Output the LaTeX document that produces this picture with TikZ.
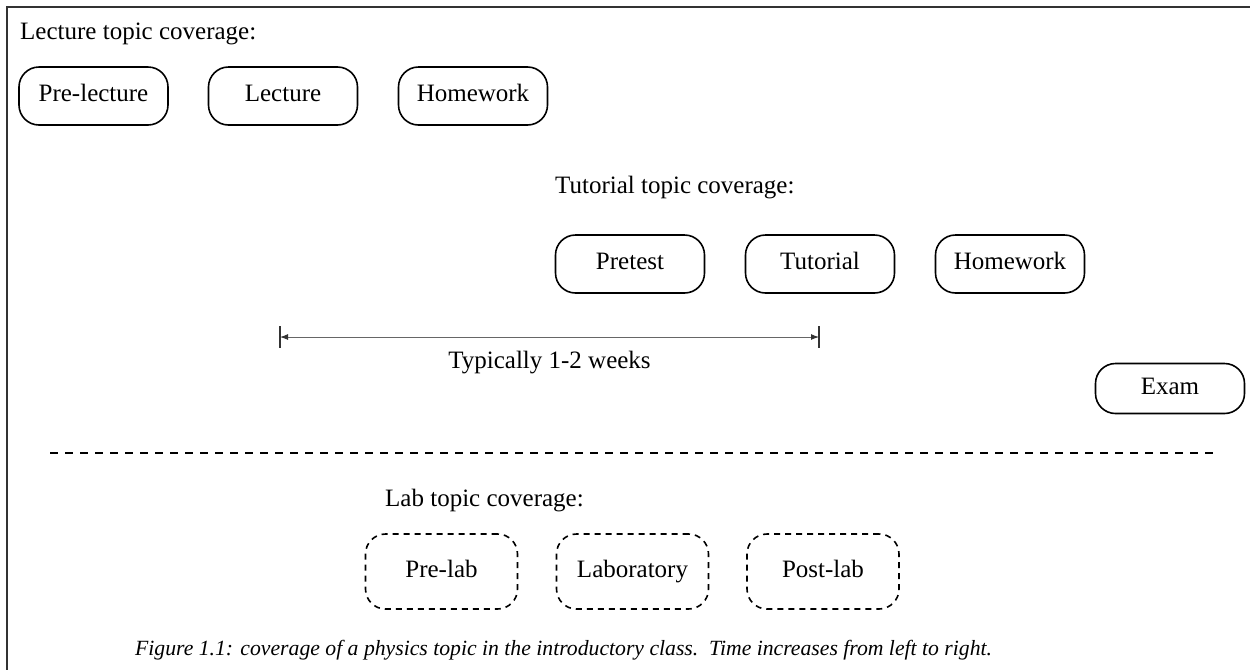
\documentclass[tikz,border=0pt]{standalone}
\usepackage{fontspec}
\setmainfont{Liberation Serif}
\usetikzlibrary{arrows.meta}
\begin{document}
\begin{tikzpicture}[x=1pt,y=-1pt,
  solidbox/.style={draw, line width=1.6pt, rounded corners=20pt, minimum width=149pt, minimum height=58pt, font=\fontsize{25}{29}\selectfont, inner sep=0pt, text height=17pt, text depth=5.5pt},
  dashbox/.style={solidbox, dash pattern=on 6pt off 5pt, minimum width=152pt, minimum height=75pt},
  headtext/.style={font=\fontsize{25}{29}\selectfont, anchor=base west, inner sep=0pt},
  frameline/.style={line width=1.5pt, draw=black!80},
  sepline/.style={line width=1.5pt, dash pattern=on 8pt off 7pt},
  dimline/.style={line width=1pt, draw=black!60, {Latex[length=8pt,width=6pt,black!80]}-{Latex[length=8pt,width=6pt,black!80]}},
  barline/.style={line width=1.2pt, draw=black!80},
]
\useasboundingbox (0,0) rectangle (1250,670);
\coordinate (fTR) at (1250,7);
\coordinate (fTL) at (7,7);
\coordinate (fBL) at (7,670);
\draw[frameline] (fTR) -- (fTL) -- (fBL);

\node[headtext] (lechead) at (20,39) {Lecture topic coverage:};
\node[solidbox] (prelec) at (93.5,96) {Pre-lecture};
\node[solidbox] (lec) at (283,96) {Lecture};
\node[solidbox] (hw1) at (473,96) {Homework};

\node[headtext] (tuthead) at (555,193) {Tutorial topic coverage:};
\node[solidbox] (pretest) at (630,264) {Pretest};
\node[solidbox] (tut) at (820,264) {Tutorial};
\node[solidbox] (hw2) at (1010,264) {Homework};

\coordinate (dL) at (280,337);
\coordinate (dR) at (819,337);
\coordinate (dLt) at (280,326);
\coordinate (dLb) at (280,348);
\coordinate (dRt) at (819,326);
\coordinate (dRb) at (819,348);
\draw[dimline] (dL) -- (dR);
\draw[barline] (dLt) -- (dLb);
\draw[barline] (dRt) -- (dRb);
\node[font=\fontsize{25}{29}\selectfont, anchor=base, inner sep=0pt] (dimtext) at (549.5,368) {Typically 1-2 weeks};

\node[solidbox, minimum height=50pt] (exam) at (1170,388.5) {Exam};

\coordinate (sepL) at (50,453);
\coordinate (sepR) at (1215,453);
\draw[sepline] (sepL) -- (sepR);

\node[headtext] (labhead) at (385,506) {Lab topic coverage:};
\node[dashbox] (prelab) at (441.5,571.5) {Pre-lab};
\node[dashbox] (lab) at (632.5,571.5) {Laboratory};
\node[dashbox] (postlab) at (823,571.5) {Post-lab};

\node[font=\itshape\fontsize{21.7}{26}\selectfont, anchor=base west, inner sep=0pt] (caption) at (135,655) {Figure 1.1: coverage of a physics topic in the introductory class.\ \ Time increases from left to right.};
\end{tikzpicture}
\end{document}
